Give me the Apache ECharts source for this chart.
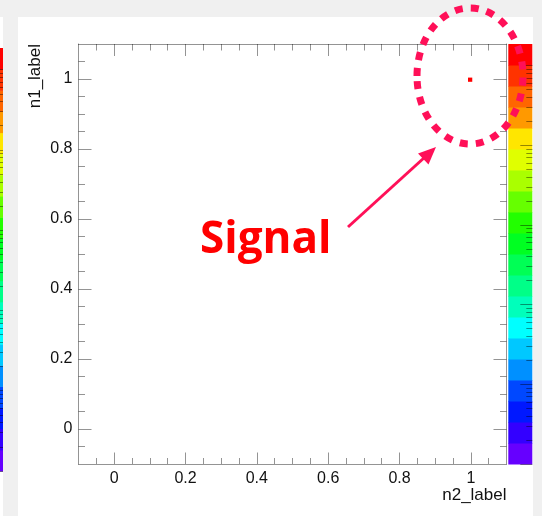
<!DOCTYPE html>
<html>
<head>
<meta charset="utf-8">
<script src="https://cdn.jsdelivr.net/npm/echarts@6/dist/echarts.min.js"></script>
<style>
  html, body { margin: 0; padding: 0; background: #f0f0f0; }
  #chart { width: 542px; height: 516px; }
</style>
</head>
<body>
<div id="chart"></div>
<script>
// ---- histogram contents (lower-left corner of each filled bin, bin count) ----
const binLowX = [0.992];
const binLowY = [0.992];
const binCounts = [150000];
const binWidth = 0.012;

// ---- axes ----
const xRange = [-0.1, 1.1];
const yRange = [-0.1, 1.1];
const majorTicks = [0, 0.2, 0.4, 0.6, 0.8, 1];
const minorTicks = [-0.05, 0.05, 0.1, 0.15, 0.25, 0.3, 0.35, 0.45, 0.5, 0.55,
                    0.65, 0.7, 0.75, 0.85, 0.9, 0.95, 1.05];
const xTitle = 'n2_label';
const yTitle = 'n1_label';

// ---- colour scale (log z) ----
const zRange = [1, 186000];
const zDecades = [1, 10, 100, 1000, 10000, 100000];
const zSubSteps = [2, 3, 4, 5, 6, 7, 8, 9];
const paletteColors = ['#6600ff', '#3300ff', '#0018ff', '#0048ff', '#0090ff',
                       '#00c8ff', '#00ffff', '#00ffbb', '#00ff88', '#00ff55',
                       '#00ff22', '#22ff00', '#66ff00', '#aaff00', '#e0ff00',
                       '#ffe600', '#ff9900', '#ff6600', '#ff3300', '#ff0000'];

// ---- annotation ----
const noteText = 'Signal';

// z axis works in exponent space so the palette bands are evenly spaced
const zExp = zRange.map(v => Math.log10(v));
const nBands = paletteColors.length;
const bandStep = (zExp[1] - zExp[0]) / nBands;
const bands = paletteColors.map((c, i) => [zExp[0] + i * bandStep, zExp[0] + (i + 1) * bandStep, i]);
const zMajorExp = zDecades.map(v => Math.log10(v));
const zMinorExp = [];
zDecades.forEach(d => zSubSteps.forEach(k => {
  const v = d * k;
  if (v < zRange[1]) zMinorExp.push(Math.log10(v));
}));

function colourFor(count) {
  const e = Math.log10(count);
  let i = Math.floor((e - zExp[0]) / bandStep);
  i = Math.max(0, Math.min(nBands - 1, i));
  return paletteColors[i];
}

const lineCol = 'rgba(0,0,0,0.42)';
const labelFont = { fontFamily: 'Liberation Sans', fontSize: 16, color: '#111' };

function lineStyleOf(show) {
  return { show: show, onZero: false, lineStyle: { color: lineCol, width: 1 } };
}

function tickSet(values, len) {
  return { show: true, inside: true, length: len, customValues: values,
           lineStyle: { color: lineCol, width: 1 } };
}

function frameAxis(extra) {
  return Object.assign({
    type: 'value', gridIndex: 0,
    axisLine: lineStyleOf(false),
    axisLabel: { show: false },
    splitLine: { show: false }
  }, extra);
}

const xAxes = [
  frameAxis({ position: 'bottom', min: xRange[0], max: xRange[1],
    axisLine: lineStyleOf(true),
    axisTick: tickSet(majorTicks, 11.5),
    axisLabel: Object.assign({ show: true, margin: 7, customValues: majorTicks }, labelFont),
    name: xTitle, nameLocation: 'end', nameGap: 0,
    nameTextStyle: { fontFamily: 'Liberation Sans', fontSize: 17, color: '#111',
                     align: 'right', verticalAlign: 'top', padding: [23, 0, 0, 0] } }),
  frameAxis({ position: 'bottom', min: xRange[0], max: xRange[1], axisTick: tickSet(minorTicks, 6) }),
  frameAxis({ position: 'top', min: xRange[0], max: xRange[1],
    axisLine: lineStyleOf(true), axisTick: tickSet(majorTicks, 12) }),
  frameAxis({ position: 'top', min: xRange[0], max: xRange[1], axisTick: tickSet(minorTicks, 6.5) }),
  // colour bar and neighbouring colour bar: plain 0..1 across
  { type: 'value', gridIndex: 1, min: 0, max: 1, show: false },
  { type: 'value', gridIndex: 2, min: 0, max: 1, show: false }
];

function zAxis(grid, values, len, withLine) {
  return {
    type: 'value', gridIndex: grid, position: 'right', min: zExp[0], max: zExp[1], z: 6,
    axisLine: lineStyleOf(withLine),
    axisLabel: { show: false }, splitLine: { show: false },
    axisTick: tickSet(values, len)
  };
}

const yAxes = [
  frameAxis({ position: 'left', min: yRange[0], max: yRange[1],
    axisLine: lineStyleOf(true),
    axisTick: tickSet(majorTicks, 13),
    axisLabel: Object.assign({ show: true, margin: 6, customValues: majorTicks }, labelFont),
    name: yTitle, nameLocation: 'end', nameGap: 0, nameRotate: 90,
    nameTextStyle: { fontFamily: 'Liberation Sans', fontSize: 17, color: '#111',
                     align: 'right', verticalAlign: 'bottom', padding: [0, 0, 35, 0] } }),
  frameAxis({ position: 'left', min: yRange[0], max: yRange[1], axisTick: tickSet(minorTicks, 6.5) }),
  frameAxis({ position: 'right', min: yRange[0], max: yRange[1],
    axisLine: lineStyleOf(true), axisTick: tickSet(majorTicks, 13) }),
  frameAxis({ position: 'right', min: yRange[0], max: yRange[1], axisTick: tickSet(minorTicks, 6.5) }),
  zAxis(1, zMajorExp, 12, false),
  zAxis(1, zMinorExp, 6, false),
  zAxis(2, zMajorExp, 12, false),
  zAxis(2, zMinorExp, 6, false)
];

function renderBin(params, api) {
  const x = api.value(0), y = api.value(1);
  const tl = api.coord([x, y + binWidth]);
  const br = api.coord([x + binWidth, y]);
  return { type: 'rect',
    shape: { x: tl[0], y: tl[1], width: br[0] - tl[0], height: br[1] - tl[1] },
    style: { fill: colourFor(api.value(2)) } };
}

function renderBand(params, api) {
  const lo = api.value(0), hi = api.value(1);
  const tl = api.coord([0, hi]);
  const br = api.coord([1, lo]);
  return { type: 'rect',
    shape: { x: tl[0], y: tl[1], width: br[0] - tl[0], height: br[1] - tl[1] + 0.5 },
    style: { fill: paletteColors[api.value(2)] } };
}

const chart = echarts.init(document.getElementById('chart'), null, { renderer: 'canvas' });

chart.setOption({
  animation: false,
  backgroundColor: 'transparent',
  grid: [
    { left: 78.5, top: 44, width: 428, height: 420, containLabel: false, outerBoundsMode: 'none' },
    { left: 508.3, top: 44, width: 24, height: 420, containLabel: false, outerBoundsMode: 'none' },
    { left: -21, top: 48, width: 24, height: 423, containLabel: false, outerBoundsMode: 'none' }
  ],
  xAxis: xAxes,
  yAxis: yAxes,
  series: [
    { type: 'custom', name: 'h2', xAxisIndex: 0, yAxisIndex: 0, renderItem: renderBin,
      encode: { x: 0, y: 1 }, clip: true, z: 3,
      data: binLowX.map((x, i) => [x, binLowY[i], binCounts[i]]) },
    { type: 'custom', name: 'palette', xAxisIndex: 4, yAxisIndex: 4, renderItem: renderBand,
      encode: { y: [0, 1] }, z: 1, data: bands },
    { type: 'custom', name: 'palette-left', xAxisIndex: 5, yAxisIndex: 6, renderItem: renderBand,
      encode: { y: [0, 1] }, z: 1, data: bands }
  ],
  graphic: [
    // pads
    { type: 'rect', z: -10, silent: true, shape: { x: 0, y: 17, width: 3, height: 499 }, style: { fill: '#ffffff' } },
    { type: 'rect', z: -10, silent: true, shape: { x: 18, y: 17, width: 515, height: 499 }, style: { fill: '#ffffff' } },
    // annotation: dashed ring, arrow and label
    { type: 'ellipse', z: 100, silent: true,
      shape: { cx: 470, cy: 76, rx: 53, ry: 68 },
      style: { fill: 'none', stroke: '#ff1058', lineWidth: 7, lineDash: [8, 8] } },
    { type: 'line', z: 100, silent: true,
      shape: { x1: 348, y1: 227, x2: 425, y2: 157 },
      style: { stroke: '#ff1058', lineWidth: 3 } },
    { type: 'polygon', z: 100, silent: true,
      shape: { points: [[436, 147], [418, 153.5], [428.5, 164.5]] },
      style: { fill: '#ff1058' } },
    { type: 'text', z: 100, silent: true,
      style: { text: noteText, x: 200, y: 240, fill: '#ff0000',
               font: 'bold 44px "Open Sans"', textVerticalAlign: 'middle' } }
  ]
});
</script>
</body>
</html>
